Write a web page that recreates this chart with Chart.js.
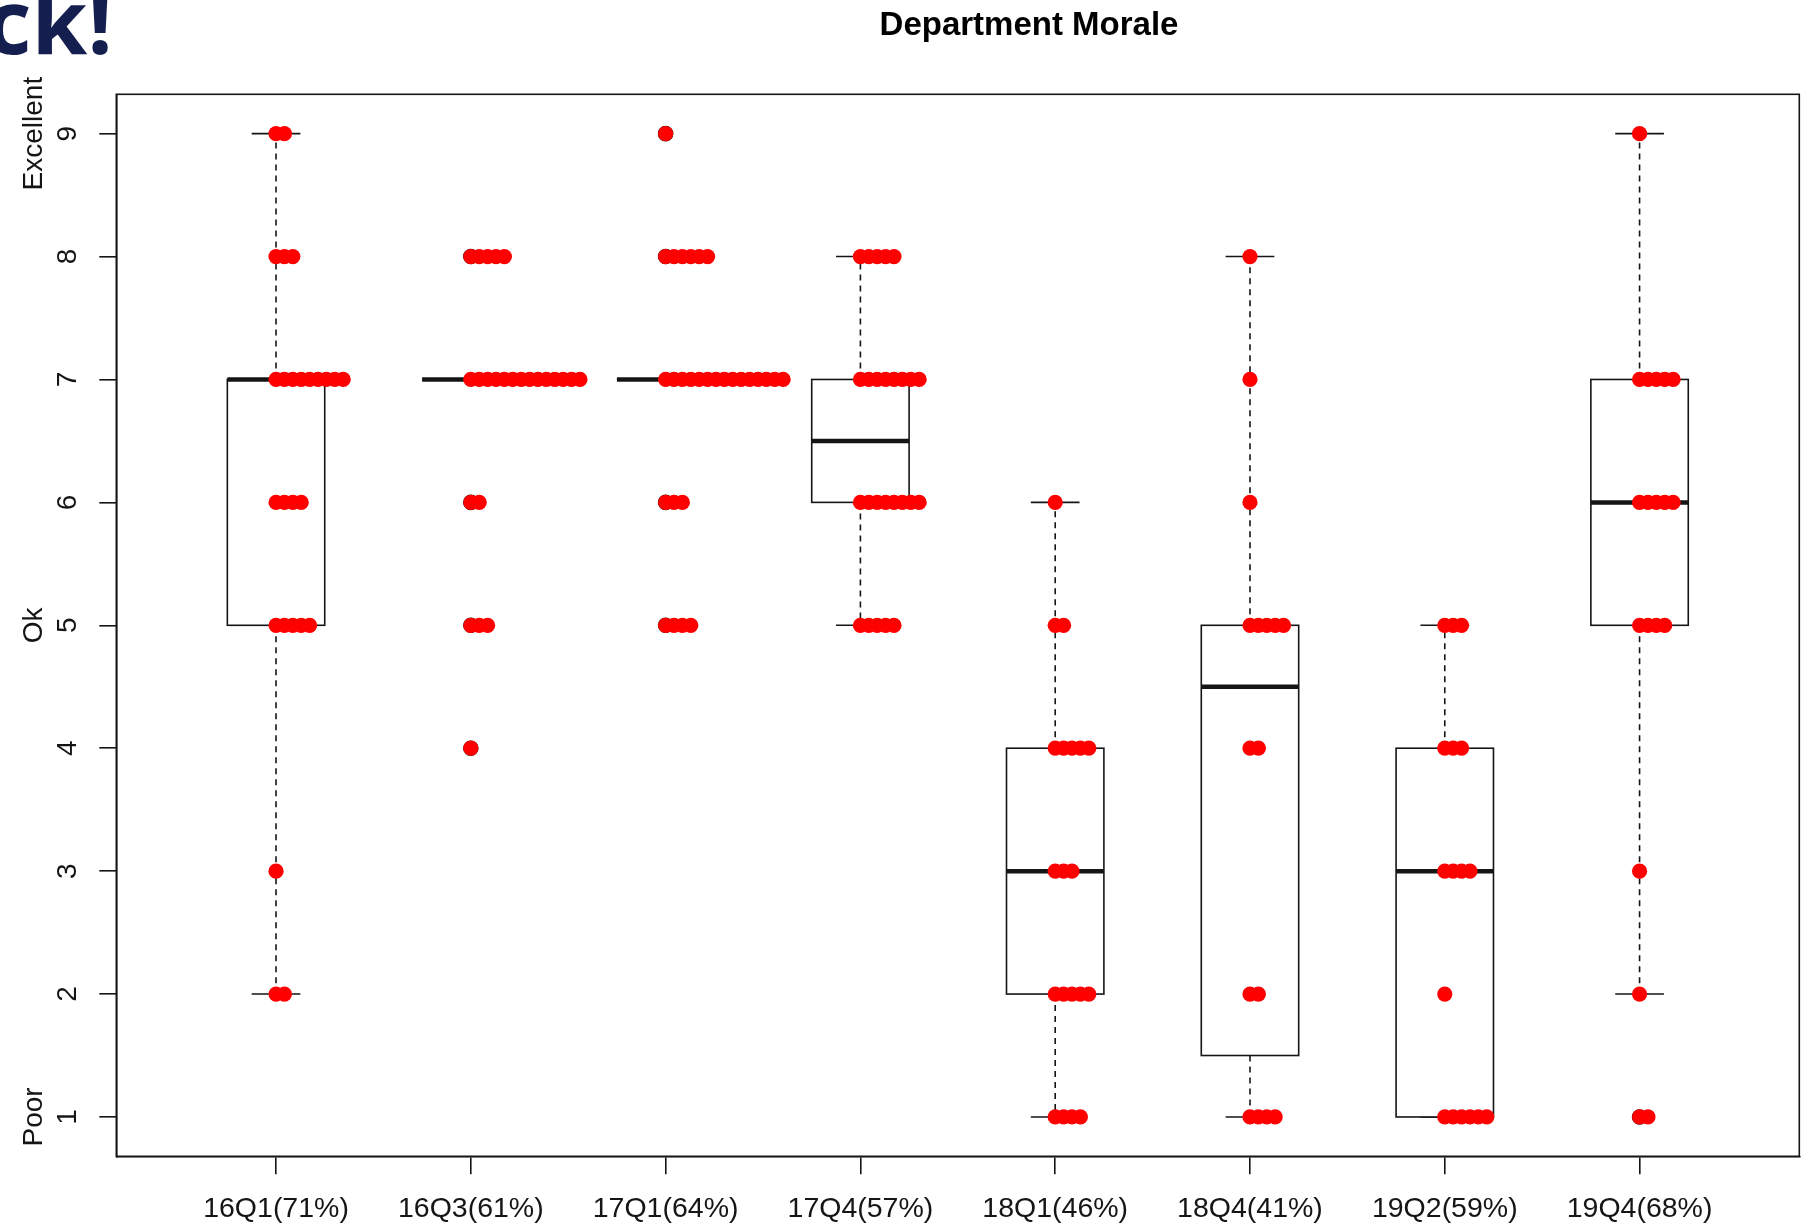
<!DOCTYPE html>
<html>
<head>
<meta charset="utf-8">
<title>Department Morale</title>
<script src="https://cdn.jsdelivr.net/npm/chart.js@4.4.1/dist/chart.umd.min.js"></script>
<style>
  html, body { margin: 0; padding: 0; background: #fff; }
  #wrap { position: relative; width: 1808px; height: 1226px; overflow: hidden; }
  canvas { display: block; }
</style>
</head>
<body>
<div id="wrap"><canvas id="chart-morale" width="1808" height="1226"></canvas></div>
<script>
    // ─── Data ───────────────────────────────────────────────────────────
    const categories = ['16Q1(71%)', '16Q3(61%)', '17Q1(64%)', '17Q4(57%)',
                        '18Q1(46%)', '18Q4(41%)', '19Q2(59%)', '19Q4(68%)'];
    const scoreLevels = [1, 2, 3, 4, 5, 6, 7, 8, 9];
    const scoreNames = { 1: 'Poor', 5: 'Ok', 9: 'Excellent' };

    // number of answers per score 1..9
    const votes16Q1 = [0, 2, 1, 0, 5, 4, 9, 3, 2];
    const votes16Q3 = [0, 0, 0, 1, 3, 2, 14, 5, 0];
    const votes17Q1 = [0, 0, 0, 0, 4, 3, 15, 6, 1];
    const votes17Q4 = [0, 0, 0, 0, 5, 8, 8, 5, 0];
    const votes18Q1 = [4, 5, 3, 5, 2, 1, 0, 0, 0];
    const votes18Q4 = [4, 2, 0, 2, 5, 1, 1, 1, 0];
    const votes19Q2 = [6, 1, 4, 3, 3, 0, 0, 0, 0];
    const votes19Q4 = [2, 1, 1, 0, 4, 5, 5, 0, 1];
    const allVotes = [votes16Q1, votes16Q3, votes17Q1, votes17Q4,
                      votes18Q1, votes18Q4, votes19Q2, votes19Q4];

    // box plot figures as drawn
    const whiskerLow  = [2, 7, 7, 5, 1, 1,   1, 2];
    const hingeLow    = [5, 7, 7, 6, 2, 1.5, 1, 5];
    const medians     = [7, 7, 7, 6.5, 3, 4.5, 3, 6];
    const hingeHigh   = [7, 7, 7, 7, 4, 5,   4, 7];
    const whiskerHigh = [9, 7, 7, 8, 6, 8,   5, 9];

    // ─── Style ──────────────────────────────────────────────────────────
    const FONT = "'Liberation Sans', Arial, Helvetica, sans-serif";
    const INK = '#151515';
    const DOT_RED = '#ff0000';
    const BOX_HALF = 0.25;      // x units
    const STAPLE_HALF = 0.125;  // x units
    const STACK_STEP = 0.0431;  // x units between stacked dots

    const dotPoints = [];
    const outlierPoints = [];
    allVotes.forEach((votes, i) => {
        votes.forEach((n, s) => {
            const score = scoreLevels[s];
            for (let k = 0; k < n; k++) dotPoints.push({ x: i + 1 + k * STACK_STEP, y: score });
            if (n > 0 && (score < whiskerLow[i] || score > whiskerHigh[i]))
                outlierPoints.push({ x: i + 1, y: score });
        });
    });

    function line(ctx, x1, y1, x2, y2) {
        ctx.beginPath(); ctx.moveTo(x1, y1); ctx.lineTo(x2, y2); ctx.stroke();
    }

    const boxPlugin = {
        id: 'boxes',
        beforeDatasetsDraw(chart) {
            const { ctx, scales: { x, y } } = chart;
            ctx.save();
            ctx.strokeStyle = INK;
            categories.forEach((_, i) => {
                const g = i + 1;
                const xc = x.getPixelForValue(g);
                const xl = x.getPixelForValue(g - BOX_HALF), xr = x.getPixelForValue(g + BOX_HALF);
                const sl = x.getPixelForValue(g - STAPLE_HALF), sr = x.getPixelForValue(g + STAPLE_HALF);
                const yLo = y.getPixelForValue(whiskerLow[i]), yHi = y.getPixelForValue(whiskerHigh[i]);
                const yQ1 = y.getPixelForValue(hingeLow[i]), yQ3 = y.getPixelForValue(hingeHigh[i]);
                const yMed = y.getPixelForValue(medians[i]);
                // whiskers
                ctx.lineWidth = 1.6;
                ctx.setLineDash([6, 5]);
                if (yHi < yQ3) line(ctx, xc, yQ3, xc, yHi);
                if (yLo > yQ1) line(ctx, xc, yQ1, xc, yLo);
                ctx.setLineDash([]);
                line(ctx, sl, yHi, sr, yHi);
                line(ctx, sl, yLo, sr, yLo);
                // box
                ctx.fillStyle = '#fff';
                ctx.fillRect(xl, yQ3, xr - xl, yQ1 - yQ3);
                ctx.strokeRect(xl, yQ3, xr - xl, yQ1 - yQ3);
                // median
                ctx.lineWidth = 4.5;
                ctx.lineCap = 'butt';
                line(ctx, xl, yMed, xr, yMed);
            });
            ctx.restore();
        }
    };

    const framePlugin = {
        id: 'frame',
        afterDraw(chart) {
            const { ctx, chartArea: a, scales: { y } } = chart;
            ctx.save();
            ctx.strokeStyle = INK;
            ctx.lineWidth = 1.6;
            ctx.strokeRect(a.left, a.top, a.right - a.left, a.bottom - a.top);

            // rotated y labels (R style, las = 0)
            ctx.fillStyle = INK;
            ctx.font = '28px ' + FONT;
            ctx.textAlign = 'center';
            ctx.textBaseline = 'alphabetic';
            scoreLevels.forEach(v => {
                const py = y.getPixelForValue(v);
                ctx.save(); ctx.translate(76, py); ctx.rotate(-Math.PI / 2);
                ctx.fillText(String(v), 0, 0); ctx.restore();
                if (scoreNames[v]) {
                    ctx.save(); ctx.translate(42, py); ctx.rotate(-Math.PI / 2);
                    ctx.fillText(scoreNames[v], 0, 0); ctx.restore();
                }
            });

            // title
            ctx.font = 'bold 33px ' + FONT;
            ctx.fillStyle = '#000';
            ctx.fillText('Department Morale', 1029, 35);

            // slide heading cut off at the edge
            ctx.font = "bold 90px 'Open Sans', 'Liberation Sans', sans-serif";
            ctx.fillStyle = '#151f4f';
            ctx.textAlign = 'right';
            ctx.fillText('ck!', 113, 54);
            ctx.restore();
        }
    };

    new Chart(document.getElementById('chart-morale'), {
        type: 'scatter',
        data: {
            datasets: [
                { label: 'answers', data: dotPoints, backgroundColor: DOT_RED, borderColor: DOT_RED,
                  borderWidth: 0, pointRadius: 7.6, pointHoverRadius: 7.6, order: 0 },
                { label: 'outliers', data: outlierPoints, backgroundColor: 'rgba(0,0,0,0)', borderColor: INK,
                  borderWidth: 1.2, pointRadius: 7.2, order: 1 }
            ]
        },
        options: {
            responsive: false,
            animation: false,
            events: [],
            layout: { padding: { top: 94.3, right: 8.7, left: 0, bottom: 0 } },
            plugins: { legend: { display: false }, tooltip: { enabled: false } },
            scales: {
                x: {
                    type: 'linear', position: 'bottom', min: 0.18, max: 8.82,
                    afterBuildTicks: s => { s.ticks = categories.map((_, i) => ({ value: i + 1 })); },
                    afterFit: s => { s.height = 69.7; },
                    grid: { drawOnChartArea: false, drawTicks: true, tickLength: 18, color: INK, lineWidth: 1.6 },
                    border: { display: true, color: INK, width: 1.6 },
                    ticks: { autoSkip: false, maxRotation: 0, padding: 18, color: INK,
                             font: { family: FONT, size: 28.5 },
                             callback: v => categories[v - 1] }
                },
                y: {
                    type: 'linear', position: 'left', min: 0.68, max: 9.32,
                    afterBuildTicks: s => { s.ticks = scoreLevels.map(v => ({ value: v })); },
                    afterFit: s => { s.width = 116.3; },
                    grid: { drawOnChartArea: false, drawTicks: true, tickLength: 17, color: INK, lineWidth: 1.6 },
                    border: { display: true, color: INK, width: 1.6 },
                    ticks: { display: false }
                }
            }
        },
        plugins: [boxPlugin, framePlugin]
    });
</script>
</body>
</html>
